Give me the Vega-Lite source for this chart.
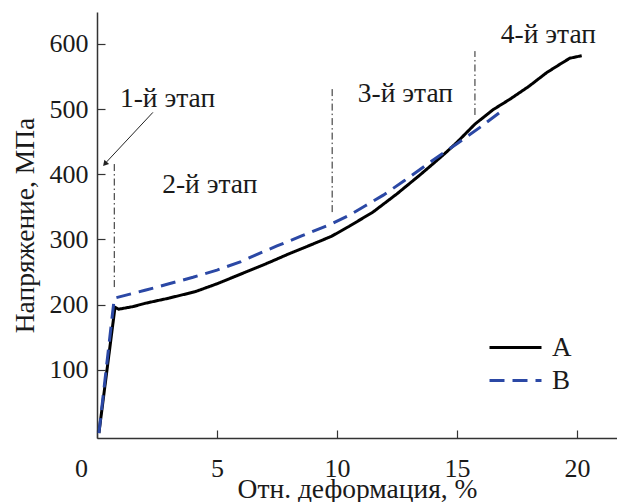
{
  "$schema": "https://vega.github.io/schema/vega-lite/v6.json",
  "width": 520,
  "height": 426,
  "autosize": {"type": "none"},
  "padding": {"left": 97, "top": 12, "right": 0, "bottom": 64},
  "background": "white",
  "config": {
    "view": {"stroke": null},
    "font": "Liberation Serif",
    "axis": {
      "domainColor": "#333",
      "domainWidth": 1.5,
      "tickColor": "#333",
      "tickWidth": 1.2,
      "grid": false,
      "labelFont": "Liberation Serif",
      "labelFontSize": 26,
      "labelColor": "#1a1a1a",
      "titleFont": "Liberation Serif",
      "titleFontSize": 27.5,
      "titleFontWeight": "normal",
      "titleColor": "#1a1a1a"
    },
    "legend": {
      "labelFont": "Liberation Serif",
      "labelFontSize": 27,
      "labelColor": "#1a1a1a"
    }
  },
  "datasets": {
    "curves": [
      {"series": "A", "eps": 0.08, "sigma": 3},
      {"series": "A", "eps": 0.75, "sigma": 196},
      {"series": "A", "eps": 0.9, "sigma": 193},
      {"series": "A", "eps": 1.5, "sigma": 197},
      {"series": "A", "eps": 2.0, "sigma": 202},
      {"series": "A", "eps": 3.0, "sigma": 210},
      {"series": "A", "eps": 4.1, "sigma": 220},
      {"series": "A", "eps": 5.0, "sigma": 232},
      {"series": "A", "eps": 6.0, "sigma": 247},
      {"series": "A", "eps": 7.0, "sigma": 262},
      {"series": "A", "eps": 8.0, "sigma": 278},
      {"series": "A", "eps": 9.0, "sigma": 293},
      {"series": "A", "eps": 9.78, "sigma": 305},
      {"series": "A", "eps": 10.5, "sigma": 320},
      {"series": "A", "eps": 11.5, "sigma": 342},
      {"series": "A", "eps": 12.5, "sigma": 370},
      {"series": "A", "eps": 13.46, "sigma": 399},
      {"series": "A", "eps": 14.0, "sigma": 416},
      {"series": "A", "eps": 14.5, "sigma": 432},
      {"series": "A", "eps": 15.0, "sigma": 449},
      {"series": "A", "eps": 15.75, "sigma": 477},
      {"series": "A", "eps": 16.5, "sigma": 499},
      {"series": "A", "eps": 17.2, "sigma": 515},
      {"series": "A", "eps": 18.0, "sigma": 535},
      {"series": "A", "eps": 18.74, "sigma": 556},
      {"series": "A", "eps": 19.3, "sigma": 569},
      {"series": "A", "eps": 19.7, "sigma": 578},
      {"series": "A", "eps": 20.2, "sigma": 582},
      {"series": "B", "eps": 0.08, "sigma": 3},
      {"series": "B", "eps": 0.72, "sigma": 210},
      {"series": "B", "eps": 2.0, "sigma": 222},
      {"series": "B", "eps": 3.0, "sigma": 232},
      {"series": "B", "eps": 4.0, "sigma": 242},
      {"series": "B", "eps": 5.0, "sigma": 253},
      {"series": "B", "eps": 6.0, "sigma": 266},
      {"series": "B", "eps": 6.6, "sigma": 276},
      {"series": "B", "eps": 7.5, "sigma": 290},
      {"series": "B", "eps": 8.5, "sigma": 305},
      {"series": "B", "eps": 9.78, "sigma": 324},
      {"series": "B", "eps": 10.5, "sigma": 337},
      {"series": "B", "eps": 11.2, "sigma": 352},
      {"series": "B", "eps": 11.93, "sigma": 368},
      {"series": "B", "eps": 12.8, "sigma": 390},
      {"series": "B", "eps": 13.9, "sigma": 419},
      {"series": "B", "eps": 15.0, "sigma": 447},
      {"series": "B", "eps": 16.0, "sigma": 473},
      {"series": "B", "eps": 16.86, "sigma": 497}
    ],
    "stages": [
      {"eps": 0.72, "sigma": 227, "hi": 419},
      {"eps": 9.8, "sigma": 342, "hi": 534},
      {"eps": 15.75, "sigma": 491, "hi": 589}
    ],
    "labels": [
      {"eps": 2.94, "sigma": 503, "label": "1-й этап"},
      {"eps": 4.7, "sigma": 371, "label": "2-й этап"},
      {"eps": 12.85, "sigma": 511, "label": "3-й этап"},
      {"eps": 18.81, "sigma": 601, "label": "4-й этап"}
    ],
    "arrow": [
      {"eps": 2.33, "sigma": 495, "eps2": 0.4, "sigma2": 419}
    ],
    "arrowhead": [
      {"eps": 0.33, "sigma": 416}
    ]
  },
  "layer": [
    {
      "data": {"name": "curves"},
      "mark": {"type": "line", "strokeWidth": 3, "interpolate": "linear"},
      "encoding": {
        "x": {"field": "eps", "type": "quantitative", "scale": {"domain": [0, 21.67], "nice": false, "zero": false},
              "axis": {"orient": "bottom", "values": [0, 5, 10, 15, 20], "tickSize": -8, "labelPadding": 25,
                       "labelFlush": false,
                       "labelOffset": {"condition": {"test": "datum.value == 0", "value": -16}, "value": 0},
                       "title": "Отн. деформация, %", "titleY": 37}},
        "y": {"field": "sigma", "type": "quantitative", "scale": {"domain": [-4.6, 649], "nice": false, "zero": false},
              "axis": {"values": [100, 200, 300, 400, 500, 600], "tickSize": -8, "labelPadding": 17,
                       "title": "Напряжение, МПа", "titlePadding": 10}},
        "color": {"field": "series", "type": "nominal",
                  "scale": {"domain": ["A", "B"], "range": ["#000000", "#2b48a5"]},
                  "legend": {"title": null, "orient": "none", "legendX": 391, "legendY": 320,
                             "symbolType": "stroke", "symbolSize": 2704, "symbolStrokeWidth": 3,
                             "clipHeight": 31, "rowPadding": 2, "labelOffset": 9, "padding": 0}},
        "strokeDash": {"field": "series", "type": "nominal",
                       "scale": {"domain": ["A", "B"], "range": [[1, 0], [15, 8]]},
                       "legend": {"title": null, "orient": "none", "legendX": 391, "legendY": 320,
                             "symbolType": "stroke", "symbolSize": 2704, "symbolStrokeWidth": 3,
                             "clipHeight": 31, "rowPadding": 2, "labelOffset": 9, "padding": 0}}
      }
    },
    {
      "mark": {"type": "rule", "color": "#333", "strokeWidth": 1.5},
      "encoding": {
        "y": {"datum": 649, "type": "quantitative"}
      }
    },
    {
      "data": {"name": "stages"},
      "mark": {"type": "rule", "color": "#222", "strokeWidth": 1, "strokeDash": [7, 3, 1.5, 3]},
      "encoding": {
        "x": {"field": "eps", "type": "quantitative"},
        "y": {"field": "sigma", "type": "quantitative"},
        "y2": {"field": "hi"}
      }
    },
    {
      "data": {"name": "labels"},
      "mark": {"type": "text", "fontSize": 27.5, "font": "Liberation Serif", "color": "#1a1a1a", "align": "center", "baseline": "alphabetic"},
      "encoding": {
        "x": {"field": "eps", "type": "quantitative"},
        "y": {"field": "sigma", "type": "quantitative"},
        "text": {"field": "label"}
      }
    },
    {
      "data": {"name": "arrow"},
      "mark": {"type": "rule", "color": "#222", "strokeWidth": 1},
      "encoding": {
        "x": {"field": "eps", "type": "quantitative"},
        "y": {"field": "sigma", "type": "quantitative"},
        "x2": {"field": "eps2"},
        "y2": {"field": "sigma2"}
      }
    },
    {
      "data": {"name": "arrowhead"},
      "mark": {"type": "point", "shape": "triangle-up", "filled": true, "color": "#222", "size": 40, "angle": 222, "opacity": 1},
      "encoding": {
        "x": {"field": "eps", "type": "quantitative"},
        "y": {"field": "sigma", "type": "quantitative"}
      }
    },
    {
      "mark": {"type": "rule", "color": "#333", "strokeWidth": 1.6},
      "encoding": {
        "x": {"datum": 0, "type": "quantitative"},
        "x2": {"datum": 21.67},
        "y": {"datum": 0, "type": "quantitative"}
      }
    }
  ]
}
